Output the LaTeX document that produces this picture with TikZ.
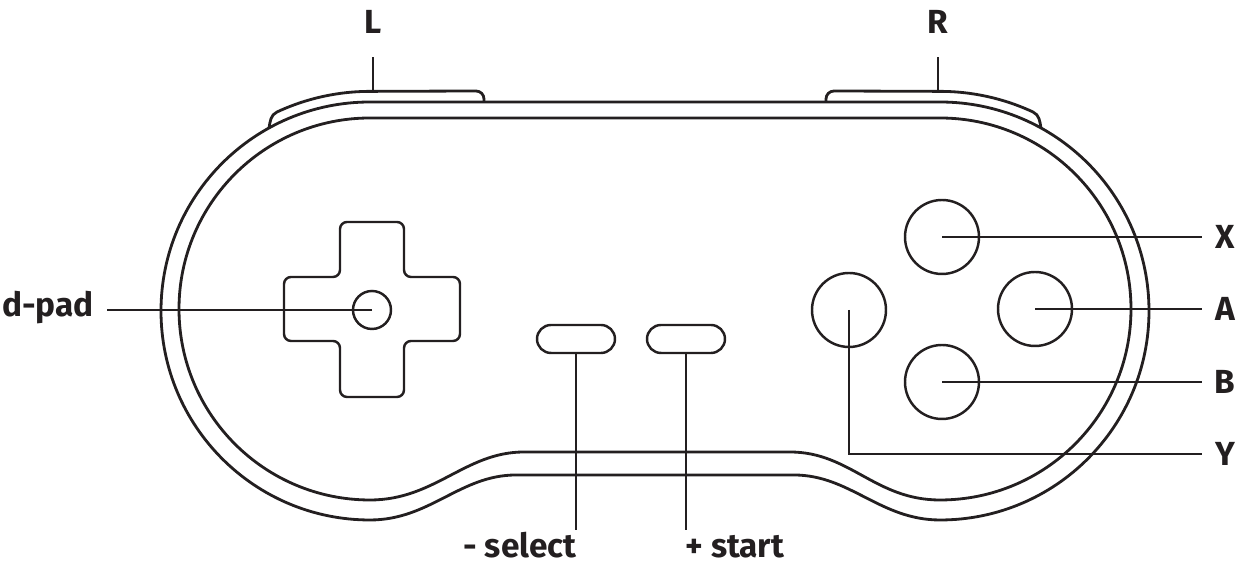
\documentclass[tikz,border=0pt]{standalone}
\usepackage{fontspec}
\setmainfont{Fira Sans}
\begin{document}
\begin{tikzpicture}[x=0.02cm,y=0.02cm,line width=1.6pt,
  ink/.style={draw=inkc},
  lbl/.style={font=\fontsize{19}{21}\selectfont\bfseries,text=inkc,inner sep=0pt},
  btn/.style={circle,draw=inkc,minimum size=74*0.02cm,inner sep=0pt},
  conn/.style={draw=inkc,line width=1.4pt}]
\definecolor{inkc}{HTML}{231F20}
\useasboundingbox (0,0) rectangle (1249,573);
% outer body
\draw[ink] (370,471) -- (940,471) arc[start angle=90,end angle=-90,radius=209]
  .. controls (880,53) and (850,98) .. (794,98) -- (516,98)
  .. controls (460,98) and (430,53) .. (370,53)
  arc[start angle=270,end angle=90,radius=209] -- cycle;
% inner body
\draw[ink] (370,455) -- (940,455) arc[start angle=90,end angle=-90,radius=191]
  .. controls (875,73) and (850,121) .. (790,121) -- (524,121)
  .. controls (465,121) and (435,73) .. (370,73)
  arc[start angle=270,end angle=90,radius=191] -- cycle;
% shoulders
\draw[ink] (269,445) to[out=80,in=205] (277,461) arc[start angle=115,end angle=90,radius=220]
  -- (476,482) arc[start angle=90,end angle=0,radius=8] -- (484,471);
\draw[ink] (1041,445) to[out=100,in=-25] (1033,461) arc[start angle=65,end angle=90,radius=220]
  -- (834,482) arc[start angle=90,end angle=180,radius=8] -- (826,471);
\coordinate (Lb) at (373,482);
\coordinate (Rb) at (938,482);
\node[lbl] (L) at (373,551) {L};
\node[lbl] (R) at (938,551) {R};
\draw[conn] (Lb) -- (L.south |- 0,516);
\draw[conn] (Rb) -- (R.south |- 0,516);
% d-pad
\draw[ink,line width=1.4pt,rounded corners=4pt] (340,351)--(404,351)--(404,296)--(460,296)--(460,232)--(404,232)--(404,176)--(340,176)--(340,232)--(284,232)--(284,296)--(340,296)--cycle;
\node[circle,draw=inkc,line width=1.4pt,minimum size=38*0.02cm,inner sep=0pt] (dp) at (372,263) {};
\node[lbl,anchor=east] (dpl) at (95,265) {d-pad};
\draw[conn] (dp.center) -- (107,263);
% select/start
\draw[ink,line width=1.4pt,rounded corners=14*0.02cm] (537,220) rectangle (615,248);
\draw[ink,line width=1.4pt,rounded corners=14*0.02cm] (647,220) rectangle (725,248);
\coordinate (sel) at (576,220);
\coordinate (sta) at (686,220);
\node[lbl,anchor=base east] (sell) at (578,15) {- select};
\node[lbl,anchor=base west] (stal) at (684,15) {+ start};
\draw[conn] (sel) -- (576,43);
\draw[conn] (sta) -- (686,43);
% face buttons
\node[btn,line width=1.4pt] (X) at (942,336) {};
\node[btn,line width=1.4pt] (A) at (1035,264) {};
\node[btn,line width=1.4pt] (B) at (942,191) {};
\node[btn,line width=1.4pt] (Y) at (849,263) {};
\node[lbl] (Xl) at (1225,336) {X};
\node[lbl] (Al) at (1225,264) {A};
\node[lbl] (Bl) at (1225,191) {B};
\node[lbl] (Yl) at (1225,119) {Y};
\draw[conn] (X.center) -- (1202,336);
\draw[conn] (A.center) -- (1202,264);
\draw[conn] (B.center) -- (1202,191);
\draw[conn] (Y.center) -- (849,119) -- (1202,119);
\end{tikzpicture}
\end{document}
